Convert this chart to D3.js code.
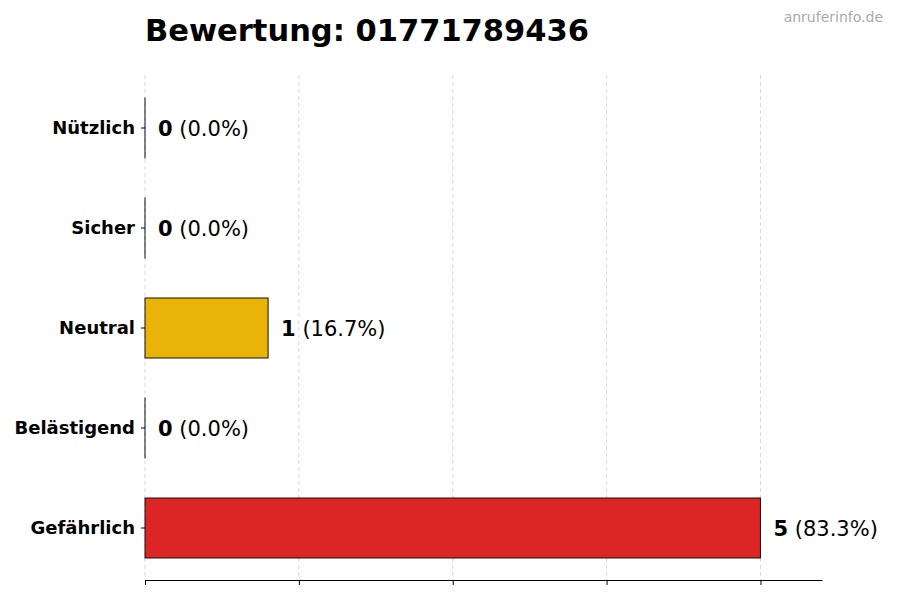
<!DOCTYPE html>
<html>
<head>
<meta charset="utf-8">
<script src="https://cdn.jsdelivr.net/npm/d3@7"></script>
<style>
  body { margin: 0; background: #fff; }
  svg { font-family: "DejaVu Sans", sans-serif; }
</style>
</head>
<body>
<script>
// chart data
const categories = ['Nützlich', 'Sicher', 'Neutral', 'Belästigend', 'Gefährlich'];
const counts = [0, 0, 1, 0, 5];
const percents = ['0.0%', '0.0%', '16.7%', '0.0%', '83.3%'];
const barColors = ['#16a34a', '#2563eb', '#eab308', '#f97316', '#dc2626'];
const xTicks = [0, 1.25, 2.5, 3.75, 5];

const width = 900, height = 600;
const plotLeft = 145, plotRight = 822, plotTop = 75, plotBottom = 580;

const svg = d3.select('body').append('svg')
  .attr('width', width)
  .attr('height', height);

const x = d3.scaleLinear()
  .domain([0, 5.5])
  .range([plotLeft, plotRight]);

const y = d3.scaleBand()
  .domain(categories)
  .range([78, 578])
  .paddingInner(0.4)
  .paddingOuter(0.2);

// dashed vertical grid
svg.append('g')
  .selectAll('line')
  .data(xTicks)
  .enter()
  .append('line')
  .attr('x1', d => x(d)).attr('x2', d => x(d))
  .attr('y1', plotTop).attr('y2', plotBottom)
  .style('stroke', '#d0d0d0')
  .style('stroke-width', 0.8)
  .style('stroke-dasharray', '4,3');

// bars (zero-width ones still show their edge)
svg.append('g')
  .selectAll('rect')
  .data(categories)
  .enter()
  .append('rect')
  .attr('x', x(0))
  .attr('y', d => y(d))
  .attr('width', (d, i) => Math.max(x(counts[i]) - x(0), 0.01))
  .attr('height', y.bandwidth())
  .style('fill', (d, i) => barColors[i])
  .style('stroke', '#111')
  .style('stroke-width', 1);

// value labels
const labels = svg.append('g')
  .selectAll('text')
  .data(categories)
  .enter()
  .append('text')
  .attr('x', (d, i) => x(counts[i]) + 13)
  .attr('y', d => y(d) + y.bandwidth() / 2)
  .attr('dy', '0.36em')
  .style('font-size', '21px')
  .style('fill', '#000');
labels.append('tspan')
  .style('font-weight', 'bold')
  .text((d, i) => counts[i]);
labels.append('tspan')
  .text((d, i) => ' (' + percents[i] + ')');

// y axis (ticks + labels, no spine)
const yAxis = svg.append('g')
  .attr('transform', `translate(${plotLeft},0)`)
  .call(d3.axisLeft(y).tickSize(4).tickPadding(6));
yAxis.select('.domain').remove();
yAxis.selectAll('line').style('stroke', '#000');
yAxis.selectAll('text')
  .style('font-family', '"DejaVu Sans", sans-serif')
  .style('font-size', '18px')
  .style('font-weight', 'bold')
  .style('fill', '#000');

// x axis (no labels)
const xAxis = svg.append('g')
  .attr('transform', `translate(0,${plotBottom})`)
  .call(d3.axisBottom(x).tickValues(xTicks).tickSize(5).tickSizeOuter(0).tickFormat(''));
xAxis.select('.domain').style('stroke', '#000').style('stroke-width', 1.2);
xAxis.selectAll('line').style('stroke', '#000');

// title
svg.append('text')
  .attr('x', plotLeft)
  .attr('y', 41)
  .style('font-size', '30.5px')
  .style('font-weight', 'bold')
  .text('Bewertung: 01771789436');

// watermark
svg.append('text')
  .attr('x', 883)
  .attr('y', 22)
  .attr('text-anchor', 'end')
  .style('font-size', '14px')
  .style('fill', '#aaaaaa')
  .text('anruferinfo.de');
</script>
</body>
</html>
